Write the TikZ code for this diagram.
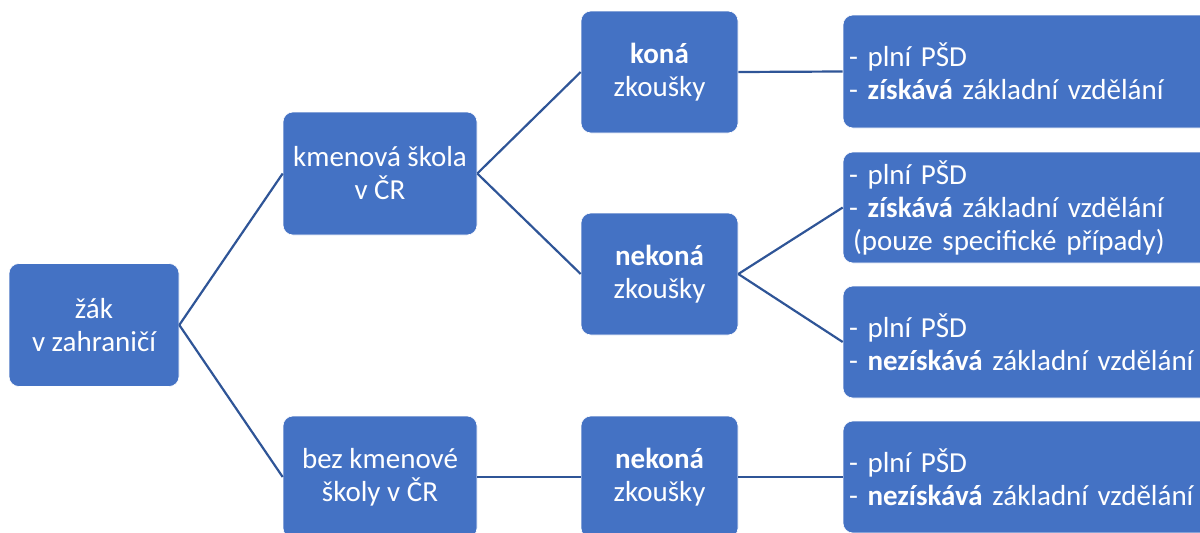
\documentclass[tikz,border=0pt]{standalone}
\usepackage{fontspec}
\setmainfont{Carlito}
\definecolor{boxblue}{HTML}{4472C4}
\definecolor{linkblue}{HTML}{2F5597}
\begin{document}
\begin{tikzpicture}[x=1pt,y=-1pt,
  box/.style={draw=white, line width=0.6pt, fill=boxblue, rounded corners=10pt,
    text=white, font=\fontsize{29}{33}\selectfont, inner sep=0pt, align=center},
  rbox/.style={box, align=left, text width=370pt, minimum width=382pt},
  link/.style={draw=linkblue, line width=2.2pt}]
\useasboundingbox (0,0) rectangle (1200,533);
\clip (0,0) rectangle (1200,533);
\node[box, minimum width=170pt, minimum height=123pt] (a) at (94,325) {žák\\v zahraničí};
\node[box, minimum width=194pt, minimum height=123pt] (b) at (380,173.5) {kmenová škola\\v ČR};
\node[box, minimum width=194pt, minimum height=122pt] (c) at (380,477) {bez kmenové\\školy v ČR};
\node[box, minimum width=157pt, minimum height=122pt] (d) at (659.5,72) {\textbf{koná}\\zkoušky};
\node[box, minimum width=157pt, minimum height=122pt] (e) at (659.5,274) {\textbf{nekoná}\\zkoušky};
\node[box, minimum width=157pt, minimum height=122pt] (f) at (659.5,477) {\textbf{nekoná}\\zkoušky};
\node[rbox, minimum height=113pt] (g) at (1034,71.5) {- plní PŠD\\- \textbf{získává} základní vzdělání};
\node[rbox, minimum height=111pt] (h) at (1034,207.5) {- plní PŠD\\- \textbf{získává} základní vzdělání\\\hspace*{4pt}(pouze specifické případy)};
\node[rbox, minimum height=112pt] (i) at (1034,342) {- plní PŠD\\- \textbf{nezískává} základní vzdělání};
\node[rbox, minimum height=112pt] (j) at (1034,477) {- plní PŠD\\- \textbf{nezískává} základní vzdělání};
\draw[link] (a.east) -- (b.west);
\draw[link] (a.east) -- (c.west);
\draw[link] (b.east) -- (d.west);
\draw[link] (b.east) -- (e.west);
\draw[link] (c.east) -- (f.west);
\draw[link] (d.east) -- (g.west);
\draw[link] (e.east) -- (h.west);
\draw[link] (e.east) -- (i.west);
\draw[link] (f.east) -- (j.west);
\end{tikzpicture}
\end{document}
